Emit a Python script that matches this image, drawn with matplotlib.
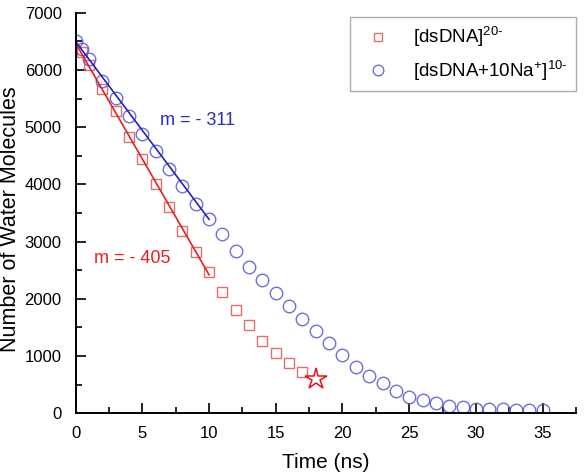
import matplotlib.pyplot as plt
import numpy as np
from matplotlib.ticker import MultipleLocator

plt.rcParams['font.family'] = ['Liberation Sans', 'DejaVu Sans']
plt.rcParams['mathtext.fontset'] = 'custom'
plt.rcParams['mathtext.rm'] = 'Liberation Sans'
plt.rcParams['mathtext.it'] = 'Liberation Sans:italic'

# [dsDNA]20- : number of water molecules vs time
t_red = [0.5, 1, 2, 3, 4, 5, 6, 7, 8, 9, 10, 11, 12, 13, 14, 15, 16, 17]
n_red = [6310, 6090, 5660, 5280, 4830, 4440, 4010, 3610, 3190, 2810, 2470,
         2120, 1800, 1540, 1270, 1060, 880, 720]
t_star, n_star = 18, 590

# [dsDNA+10Na+]10-
t_blue = [0, 0.5, 1, 2, 3, 4, 5, 6, 7, 8, 9, 10, 11, 12, 13, 14, 15, 16, 17,
          18, 19, 20, 21, 22, 23, 24, 25, 26, 27, 28, 29, 30, 31, 32, 33, 34, 35]
n_blue = [6500, 6360, 6190, 5800, 5510, 5200, 4890, 4590, 4270, 3970, 3660,
          3390, 3130, 2840, 2560, 2320, 2110, 1870, 1650, 1440, 1220, 1020,
          810, 650, 520, 390, 290, 230, 170, 130, 100, 80, 70, 65, 55, 55, 55]

# linear fits over the first 10 ns (slope, intercept)
red_fit = (-405, 6470)
blue_fit = (-311, 6500)
fit_range = (0, 10)

fig = plt.figure(figsize=(5.86, 4.76), dpi=100)
ax = fig.add_axes([0.129, 0.132, 0.854, 0.841])

ax.plot(t_red, n_red, 's', ms=7.5, mfc='none', mec='#e05555', mew=1.0,
        alpha=0.85, label='[dsDNA]$^{\\mathrm{20\u2010}}$')
ax.plot(t_blue, n_blue, 'o', ms=9, mfc='none', mec='#5555d5', mew=1.0,
        alpha=0.85, label='[dsDNA+10Na$^{\\mathrm{+}}$]$^{\\mathrm{10\u2010}}$')
ax.plot(t_star, n_star, '*', ms=16, mfc='none', mec='#e8101a', mew=1.1)

xf = np.array(fit_range)
ax.plot(xf, red_fit[0] * xf + red_fit[1], color='#e8201f', lw=1.2)
ax.plot(xf, blue_fit[0] * xf + blue_fit[1], color='#2323c0', lw=1.2)

ax.text(6.3, 5110, 'm = - 311', color='#2a2acc', fontsize=13, va='center')
ax.text(1.4, 2710, 'm = - 405', color='#e8201f', fontsize=13, va='center')

ax.set_xlim(0, 37.5)
ax.set_ylim(0, 7000)
ax.xaxis.set_major_locator(MultipleLocator(5))
ax.xaxis.set_minor_locator(MultipleLocator(2.5))
ax.yaxis.set_major_locator(MultipleLocator(1000))
ax.yaxis.set_minor_locator(MultipleLocator(500))
ax.set_xticks(np.arange(0, 36, 5))
ax.tick_params(which='major', direction='in', length=7, width=1.2, labelsize=12)
ax.tick_params(axis='x', which='major', pad=9)
ax.tick_params(axis='y', which='major', pad=10)
ax.tick_params(which='minor', direction='in', length=4, width=1.2)
for side in ['top', 'right']:
    ax.spines[side].set_visible(False)
for side in ['left', 'bottom']:
    ax.spines[side].set_linewidth(1.4)

ax.set_xlabel('Time (ns)', fontsize=15, labelpad=9)
ax.set_ylabel('Number of Water Molecules', fontsize=15.5)
ax.yaxis.set_label_coords(-0.109, 0.485)

leg = ax.legend(loc='upper right', fontsize=13.5, frameon=True, fancybox=False,
                edgecolor='#999999', borderpad=0.45, handletextpad=0.9,
                borderaxespad=0.2, markerscale=0.85,
                bbox_to_anchor=(1.008, 1.0))
leg.get_frame().set_linewidth(1.0)

fig.savefig('out.png', dpi=100)
